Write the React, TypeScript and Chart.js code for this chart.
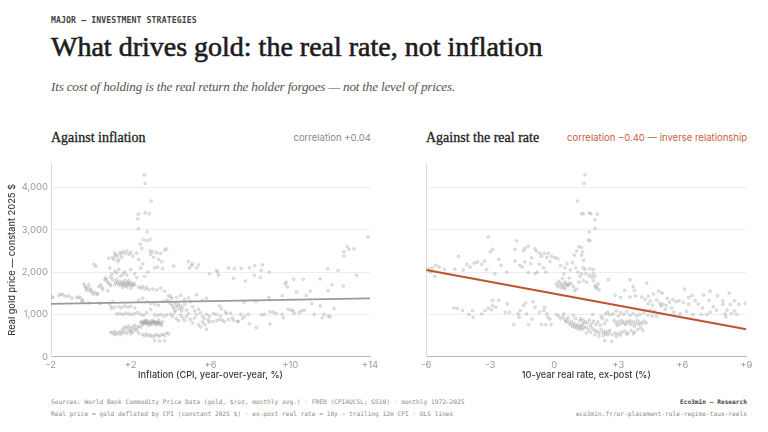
import React, { useEffect, useRef } from "react";
import { Chart, registerables } from "chart.js";

Chart.register(...registerables);

// ---------- data ----------
const priceTicks = [0, 1000, 2000, 3000, 4000];
const inflationTicks = [-2, 2, 6, 10, 14];
const realRateTicks = [-6, -3, 0, 3, 6, 9];

// OLS line endpoints
const inflationFit: [number, number][] = [[-2, 1250], [14, 1380]];
const realRateFit: [number, number][] = [[-6, 2050], [9, 650]];

// [inflation %, real gold price $]
const inflationPoints: [number, number][] = [
  [-2.0,1420],[-1.9,1400],[-1.6,1450],[-1.5,1480],[-1.4,1460],[-1.25,1430],[-1.1,1440],[-0.95,1390],[-0.7,1400],[-0.6,1410],
  [-0.5,1380],[-0.45,1300],[-0.4,1330],[-0.35,1720],[-0.3,1660],[-0.25,1610],[-0.2,1570],[-0.15,1640],[-0.1,1700],[-0.05,1560],
  [0.0,1600],[0.05,1540],[0.1,1480],[-0.1,1270],[0.15,2180],[0.25,2140],[0.2,1520],[0.3,1470],[0.35,1490],[0.4,1660],
  [0.5,1700],[0.55,1640],[0.6,1590],[0.45,1260],
  [0.7,1820],[0.75,1860],[0.8,1800],[0.85,1750],[0.9,2330],[0.95,2100],[1.0,1880],[1.05,1950],[1.1,1820],[0.95,1720],
  [1.0,1680],[1.1,2350],[1.15,2300],[1.2,2450],[1.25,2400],[1.3,2380],[1.35,2250],[1.4,2300],[1.45,2460],[1.5,2420],
  [1.55,2350],[1.6,2480],[1.7,2440],[1.8,2500],[1.9,2420],[2.0,2460],[2.1,2380],
  [0.9,1260],[1.0,1190],[1.05,1140],[1.1,1300],[0.85,1560],[1.2,1700],[1.25,1760],[1.3,1820],[1.35,1740],[1.4,1690],
  [1.45,1780],[1.5,1730],[1.55,1700],[1.6,1760],[1.65,1720],[1.7,1680],[1.75,1740],[1.8,1700],[1.85,1760],[1.9,1720],
  [1.95,1690],[2.0,1750],[2.05,1710],[2.1,1680],[2.15,1740],[2.2,1700],[1.6,1640],[1.7,1800],[1.8,1650],[1.9,1800],
  [2.0,1620],[1.5,1900],[1.6,1950],[1.2,2020],[1.3,1980],[1.4,2060],[1.7,2000],[1.8,1930],[2.0,2060],[2.2,1960],[2.3,1870],
  [2.68,4300],[2.72,4100],[3.02,3680],[2.38,3370],[2.72,3400],[2.93,3380],[2.35,3260],[2.38,3030],[2.82,2950],[2.63,2770],
  [2.8,2740],[2.97,2770],[2.47,2660],[2.55,2560],[2.3,2450],[2.4,2300],[2.6,2200],[2.5,2100],[2.97,2500],[3.1,2480],
  [3.3,2460],[3.5,2440],[3.7,2520],[3.8,2550],[3.15,2350],[3.4,2300],[3.55,2250],[3.2,2100],[3.35,2120],[3.6,2080],
  [4.15,2140],[3.0,2420],[2.85,2000],[2.7,1900],
  [2.4,1650],[2.5,1620],[2.6,1660],[2.7,1600],[2.8,1640],[2.9,1580],[3.1,1600],[3.3,1580],[3.5,1620],[3.7,1550],
  [2.4,1330],[2.6,1380],[2.8,1300],[3.0,1260],[3.2,1240],[3.4,1220],[3.6,1300],[3.8,1340],[3.9,1450],[4.0,1420],[4.05,1380],
  [1.2,1170],[1.4,1180],[1.55,1160],[1.7,1200],[1.85,1170],[2.0,1190],[2.2,1150],[1.3,1010],[1.45,1020],[1.6,1000],
  [1.75,1030],[1.9,1010],[2.05,1000],[2.2,1020],[2.35,1040],[2.5,1000],[2.65,980],[2.8,1040],[3.2,990],[3.35,970],
  [3.5,1000],[3.65,960],[3.8,990],[3.0,1120],
  [2.5,820],[2.55,800],[2.6,840],[2.65,780],[2.7,830],[2.75,810],[2.8,850],[2.85,770],[2.9,820],[2.95,790],
  [3.0,840],[3.05,760],[3.1,810],[3.15,830],[3.2,780],[3.25,800],[3.3,750],[3.35,820],[3.4,790],[3.45,770],
  [3.5,810],[2.6,760],[2.75,860],[2.9,740],[3.0,780],[3.1,850],[3.2,830],[3.3,800],[3.4,860],[2.7,790],
  [2.8,800],[3.55,740],[3.6,820],
  [1.0,580],[1.1,560],[1.2,600],[1.3,540],[1.4,570],[1.5,590],[1.6,560],[1.7,600],[1.8,550],[1.9,620],
  [2.0,660],[2.1,700],[2.2,640],[2.3,680],[2.4,720],[1.6,650],[1.7,700],[1.8,680],[1.9,720],[2.0,600],
  [2.1,580],[2.2,740],[2.3,620],[2.4,560],[2.5,700],[1.5,520],[1.2,520],[2.0,540],
  [2.6,520],[2.7,500],[2.8,540],[2.9,490],[3.0,510],[3.1,470],[3.2,500],[3.3,520],[3.4,480],[3.5,510],
  [3.6,530],[3.7,500],[3.8,560],[3.9,540],[3.2,380],[3.45,370],[3.7,380],
  [3.9,1300],[4.0,1250],[4.1,1200],[4.15,1150],[4.2,1280],[4.25,1100],[4.3,1220],[4.35,1180],[4.4,1260],[4.45,1130],
  [4.5,1200],[4.55,1080],[4.6,1160],[4.7,1240],[4.8,1100],[4.9,1020],[5.0,1300],[5.1,1180],[5.2,1080],[5.3,1000],
  [5.4,1120],[5.5,1040],[5.6,950],[5.7,900],[4.0,1000],[4.1,950],[4.2,1050],[4.3,900],[4.4,850],[4.5,980],
  [4.6,920],[4.7,860],[4.8,950],[5.0,880],[5.1,800],[5.2,920],[5.4,760],[5.5,700],[5.6,820],[5.8,650],
  [5.9,880],[4.3,1400],[4.5,1450],[4.7,1350],[4.9,1390],[5.3,1460],[5.6,1330],[5.8,1380],
  [4.9,2250],[5.1,2200],[5.3,2100],[5.05,2150],[5.4,2170],[4.95,2100],
  [13.91,2830],[12.7,2380],[12.85,2600],[12.95,2540],[13.2,2550],[12.7,2480],[13.33,1920],[11.87,2080],[12.4,2040],[12.66,1670],
  [12.1,1700],[11.9,1560],[11.5,1840],[11.0,1550],[10.8,1450],[10.65,1830],[10.17,1830],[9.85,1650],[9.75,1720],[9.8,1760],
  [9.6,1440],[8.93,1400],[10.32,1530],
  [11.2,1000],[11.5,1200],[11.7,1000],[11.9,960],[12.0,940],[12.2,1140],[11.6,920],[11.07,1250],[10.7,1100],[10.55,1080],
  [10.45,1040],[9.9,1120],[10.05,1100],[10.15,1080],[10.2,1020],[8.98,1060],[9.15,1050],[9.3,1020],[8.7,1000],[8.55,990],
  [8.98,770],[9.6,1000],[9.65,920],
  [7.68,1290],[8.28,1310],
  [6.9,2100],[7.2,2080],[7.55,2090],[7.95,2100],[8.22,2150],[8.6,2170],[8.55,2040],[8.95,2000],[8.2,1920],[8.5,1870],
  [7.75,1790],[7.15,1850],[6.4,1930],[6.3,2040],[5.95,1960],[6.35,2000],
  [5.8,1000],[5.95,960],[6.15,1020],[6.3,1000],[6.5,960],[5.92,820],[6.1,830],[6.3,850],[6.45,880],[6.6,860],
  [6.7,830],[6.9,880],[7.15,860],[7.4,840],[7.6,900],[7.7,950],[7.52,1000],[7.35,830],[7.95,780],[8.3,690],
  [5.72,760],[6.75,1060],[7.0,1030],[6.55,1130],[6.45,1200],[6.8,1020],[7.1,920],[7.9,1000],
];

// [10-year ex-post real rate %, real gold price $]
const realRatePoints: [number, number][] = [
  [-6.0,2050],[-5.85,2080],[-5.7,2100],[-5.8,2000],[-5.55,2160],[-5.4,2120],[-5.6,1900],[-5.15,2060],
  [-4.66,2070],[-4.5,2370],[-4.27,2050],[-3.95,2120],[-3.75,2210],[-3.28,2260],[-3.09,2830],[-2.89,2540],[-3.17,2060],[-2.78,1960],
  [-2.5,2160],[-2.23,2000],[-3.6,2240],[-3.4,2180],[-4.1,2180],[-3.0,2480],[-2.6,2300],
  [-1.84,2540],[-1.77,2740],[-1.84,2260],[-1.61,2160],[-1.45,2500],[-1.38,2560],[-1.22,2610],[-1.06,2340],[-0.91,2550],[-0.83,2500],
  [-0.67,2440],[-0.6,2370],[-0.47,2440],[-0.35,2340],[-0.28,2440],[-0.2,2250],[-0.13,2370],[0.03,2340],[0.16,2320],[-0.8,2000],
  [-0.9,1960],[-1.22,1990],[-1.38,2240],[-1.5,2120],[-1.1,2200],[-0.5,2100],[-0.7,2180],[-0.4,2000],
  [-4.7,1150],[-4.55,1140],[-4.3,1090],[-4.0,1000],[-3.8,930],[-3.83,1090],[-3.4,1010],[-3.25,1090],[-3.1,1150],[-2.95,1110],
  [-2.9,1210],[-2.75,1170],[-2.9,1330],[-2.6,1330],[-2.3,1050],[-2.1,1050],[-1.9,760],[-1.7,1010],[-1.6,1090],[-1.65,930],
  [-1.45,1210],[-1.35,1270],[-1.3,1010],[-1.2,760],[-1.05,890],[-0.9,1170],[-0.7,1050],[-0.5,1090],[-0.45,1170],[-0.35,1010],
  [-0.3,930],[-0.2,890],[-0.15,760],[-0.4,760],[-0.6,760],[-2.2,1250],[-1.0,1300],
  [0.3,2150],[0.5,2100],[0.6,2200],[0.75,2050],[0.45,1960],[0.38,1850],[0.7,1860],[0.1,1720],[0.25,1680],[0.45,1650],
  [0.65,1690],[0.9,1650],[1.15,1760],[0.2,1780],[0.3,1740],[0.4,1700],[0.5,1760],[0.55,1720],[0.6,1680],[0.7,1740],
  [0.35,1630],[0.5,1600],[0.8,1720],[0.15,1650],[0.95,1560],[1.05,1590],[1.1,2000],[1.2,1900],[1.0,2100],[0.85,2230],
  [0.95,2400],[1.05,2500],[1.15,2600],
  [1.09,3680],[1.28,3380],[1.44,4300],[1.39,4100],[1.36,3380],[1.64,3400],[1.71,3380],[2.02,3370],[1.91,3240],[1.91,3030],
  [1.64,2950],[1.6,2760],[1.67,2740],[1.28,2580],[1.33,2480],[1.28,2400],[1.36,2280],[1.36,2100],[1.44,2060],[1.67,2080],
  [1.83,2060],[1.28,1960],[1.48,1960],[1.64,1920],[1.75,1880],[1.83,1960],[1.36,1800],[1.52,1760],[1.84,1800],[1.9,1680],
  [1.96,1620],[2.1,1580],[1.9,1900],[1.98,1650],[2.05,1720],
  [0.1,1000],[0.2,960],[0.3,900],[0.4,940],[0.5,880],[0.55,820],[0.6,860],[0.7,800],[0.75,760],[0.8,840],
  [0.85,720],[0.9,780],[0.95,700],[1.0,760],[1.05,680],[1.1,740],[1.15,650],[1.2,720],[1.25,690],[1.3,640],
  [1.35,780],[0.65,920],[0.9,980],[1.0,900],[0.45,1010],[1.2,850],
  [1.25,900],[1.35,860],[1.45,820],[1.55,800],[1.65,870],[1.75,780],[1.85,840],[1.95,760],[2.05,820],[2.15,740],
  [2.25,900],[2.35,780],[2.45,860],[1.3,740],[1.4,680],[1.5,700],[1.6,640],[1.7,720],[1.8,660],[1.9,620],
  [2.0,600],[2.1,560],[2.2,640],[2.3,580],[2.4,540],[2.5,520],[1.5,560],[1.7,580],[1.9,520],[2.1,480],
  [2.3,500],[2.37,380],[2.69,360],[2.2,950],[1.8,1000],[2.4,1010],
  [2.5,1050],[2.6,990],[2.75,1010],[2.9,1080],[3.0,960],[3.1,1040],[3.25,1000],[3.4,1060],[3.55,980],[3.7,1020],
  [3.85,960],[4.0,1000],[4.2,1040],[4.4,980],[4.6,960],[4.8,960],
  [2.8,850],[2.9,800],[3.0,830],[3.1,770],[3.2,820],[3.3,790],[3.4,840],[3.5,800],[3.6,760],[3.7,830],
  [3.8,790],[3.9,850],[4.0,810],[4.1,780],[4.2,840],[4.3,800],[2.95,740],[3.15,860],[3.35,760],[3.55,850],
  [3.75,720],[3.95,760],
  [2.4,600],[2.55,580],[2.7,520],[2.85,560],[3.0,540],[3.15,580],[3.3,600],[3.45,560],[3.6,620],[3.75,580],
  [3.9,640],[4.05,680],[4.15,620],[2.9,480],[3.1,510],[3.4,530],[3.7,540],[2.6,620],
  [2.53,1820],[3.55,1820],[3.7,1660],[3.75,1570],[4.33,1740],[3.3,1570],[2.85,1450],[3.1,1400],[3.55,1410],[3.8,1440],
  [4.1,1410],[4.25,1350],[4.4,1430],[4.5,1320],[4.65,1480],[4.4,1250],[4.6,1220],[4.8,1340],[4.95,1260],[5.1,1240],
  [5.25,1210],[5.4,1290],[5.55,1350],[5.7,1300],[5.85,1320],[6.05,1280],[6.3,1240],[6.45,1450],[6.6,1330],[6.75,1250],
  [6.95,1150],[7.0,1460],[7.25,1330],[7.45,1180],[7.6,1100],[7.9,1240],[8.1,1100],[8.25,1230],[8.45,1320],[8.65,1240],
  [8.95,1260],[8.0,1010],[8.05,940],[8.45,1080],[8.55,1000],[8.3,1020],[7.15,1000],[7.3,1050],[6.9,1000],[5.0,1200],
  [5.2,1120],[5.6,1050],[5.9,1010],[6.2,1070],[4.5,1100],[4.7,1070],[5.5,1150],[6.5,1000],
  [4.9,1550],[5.05,1500],[5.3,1380],[6.1,1600],[6.3,1400],[7.3,1550],[7.65,1440],[7.9,1320],[8.2,1500],
];

// ---------- styles ----------
const SANS = "Inter, 'Noto Sans', 'DejaVu Sans', sans-serif";
const SERIF = "'Liberation Serif', 'DejaVu Serif', serif";
const MONO = "'DejaVu Sans Mono', 'Liberation Mono', monospace";
const Y_MAX = 4580;

const signed = (v: number) => (v > 0 ? "+" + v : String(v));

type PanelProps = {
  points: [number, number][];
  fit: [number, number][];
  xTicks: number[];
  xTitle: string;
  lineColor: string;
  lineWidth: number;
  showY: boolean;
  yWidth: number;
  padRight: number;
  left: number;
};

function Panel(p: PanelProps) {
  const ref = useRef<HTMLCanvasElement | null>(null);
  useEffect(() => {
    if (!ref.current) return;
    const xMin = p.xTicks[0];
    const xMax = p.xTicks[p.xTicks.length - 1];
    const chart = new Chart(ref.current, {
      type: "scatter",
      data: {
        datasets: [
          {
            type: "line",
            data: p.fit.map(([x, y]) => ({ x, y })),
            borderColor: p.lineColor,
            borderWidth: p.lineWidth,
            pointRadius: 0,
            fill: false,
          } as any,
          {
            data: p.points.map(([x, y]) => ({ x, y })),
            pointRadius: 1.4,
            backgroundColor: "rgba(160,160,160,0.25)",
            borderColor: "rgba(140,140,140,0.45)",
            borderWidth: 0.6,
          },
        ],
      },
      options: {
        responsive: false,
        animation: false,
        events: [],
        layout: { padding: { top: 13, right: p.padRight, left: 0, bottom: 0 } },
        plugins: { legend: { display: false }, tooltip: { enabled: false } },
        scales: {
          x: {
            type: "linear",
            min: xMin,
            max: xMax,
            afterBuildTicks: (s: any) => {
              s.ticks = p.xTicks.map((v) => ({ value: v }));
            },
            afterFit: (s: any) => {
              s.height = 27.3;
            },
            grid: { display: false, drawTicks: false },
            border: { display: true, color: "#b5b5b5", width: 1 },
            ticks: {
              autoSkip: false,
              maxRotation: 0,
              padding: 3,
              color: "#9a9a9a",
              font: { family: SANS, size: 9.5 },
              callback: (v: any) => signed(Number(v)),
            },
            title: {
              display: true,
              text: p.xTitle,
              color: "#3a3a3a",
              font: { family: SANS, size: 9.2, weight: 500 },
              padding: { top: 0, bottom: 3 },
            },
          },
          y: {
            type: "linear",
            min: 0,
            max: Y_MAX,
            afterBuildTicks: (s: any) => {
              s.ticks = priceTicks.map((v) => ({ value: v }));
            },
            afterFit: (s: any) => {
              s.width = p.yWidth;
            },
            grid: { color: "#ededed", lineWidth: 1, drawTicks: false },
            border: { display: true, color: "#dcdcdc", width: 1 },
            ticks: {
              display: p.showY,
              padding: 3,
              color: "#9a9a9a",
              font: { family: SANS, size: 9.5 },
              callback: (v: any) => Number(v).toLocaleString("en-US"),
            },
            title: {
              display: p.showY,
              text: "Real gold price — constant 2025 $",
              color: "#3a3a3a",
              font: { family: SANS, size: 9.2, weight: 500 },
              padding: { top: 7, bottom: 0 },
            },
          },
        },
      },
    });
    return () => chart.destroy();
  }, []);
  return (
    <canvas
      ref={ref}
      width={384}
      height={234}
      style={{ position: "absolute", left: p.left, top: 150, width: 384, height: 234 }}
    />
  );
}

const abs = (o: React.CSSProperties): React.CSSProperties => ({
  position: "absolute",
  margin: 0,
  whiteSpace: "nowrap",
  lineHeight: 1,
  ...o,
});

export default function App() {
  useEffect(() => {
    document.body.style.margin = "0";
  }, []);
  return (
    <div
      style={{
        position: "fixed",
        left: 0,
        top: 0,
        width: 768,
        height: 432,
        background: "#ffffff",
        overflow: "hidden",
      }}
    >
      <div style={abs({ left: 51, top: 16, fontFamily: MONO, fontSize: 8.2, color: "#444", fontWeight: 600, letterSpacing: 0.1 })}>
        MAJOR — INVESTMENT STRATEGIES
      </div>
      <div style={abs({ left: 51, top: 33, fontFamily: SERIF, fontSize: 28, color: "#1c1c1c", WebkitTextStroke: "0.6px #1c1c1c" })}>
        What drives gold: the real rate, not inflation
      </div>
      <div style={abs({ left: 51, top: 80, fontFamily: SERIF, fontStyle: "italic", fontSize: 13.2, color: "#555", letterSpacing: -0.2 })}>
        Its cost of holding is the real return the holder forgoes — not the level of prices.
      </div>

      <div style={abs({ left: 51, top: 131, fontFamily: SERIF, fontSize: 14, color: "#222", WebkitTextStroke: "0.3px #222" })}>Against inflation</div>
      <div style={abs({ right: 768 - 371, top: 133, fontFamily: SANS, fontSize: 9.5, color: "#8a8a8a" })}>
        correlation +0.04
      </div>
      <div style={abs({ left: 426, top: 131, fontFamily: SERIF, fontSize: 14, color: "#222", WebkitTextStroke: "0.3px #222" })}>Against the real rate</div>
      <div style={abs({ right: 768 - 747, top: 133, fontFamily: SANS, fontSize: 9.5, color: "#c4623a" })}>
        correlation −0.40 — inverse relationship
      </div>

      <Panel
        points={inflationPoints}
        fit={inflationFit}
        xTicks={inflationTicks}
        xTitle="Inflation (CPI, year-over-year, %)"
        lineColor="#9a9a9a"
        lineWidth={1.8}
        showY={true}
        yWidth={51}
        padRight={14}
        left={0}
      />
      <Panel
        points={realRatePoints}
        fit={realRateFit}
        xTicks={realRateTicks}
        xTitle="10-year real rate, ex-post (%)"
        lineColor="#c0532d"
        lineWidth={2.2}
        showY={false}
        yWidth={42.3}
        padRight={21.7}
        left={384}
      />

      <div style={abs({ left: 51, top: 399, fontFamily: MONO, fontSize: 6.2, color: "#8a8a8a" })}>
        Sources: World Bank Commodity Price Data (gold, $/oz, monthly avg.) · FRED (CPIAUCSL; GS10) · monthly 1972–2025
      </div>
      <div style={abs({ left: 51, top: 411, fontFamily: MONO, fontSize: 6.2, color: "#8a8a8a" })}>
        Real price = gold deflated by CPI (constant 2025 $) · ex-post real rate = 10y − trailing 12m CPI · OLS lines
      </div>
      <div style={abs({ right: 768 - 747, top: 399, fontFamily: MONO, fontSize: 6.2, color: "#444", fontWeight: 600 })}>
        Eco3min — Research
      </div>
      <div style={abs({ right: 768 - 747, top: 411, fontFamily: MONO, fontSize: 6.2, color: "#8a8a8a" })}>
        eco3min.fr/or-placement-role-regime-taux-reels
      </div>
    </div>
  );
}
